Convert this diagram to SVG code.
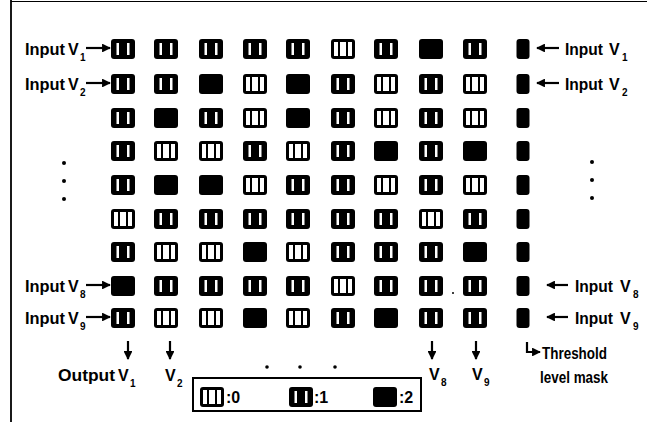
<svg xmlns="http://www.w3.org/2000/svg" width="647" height="422" viewBox="0 0 647 422">
<style>
.t{font-family:"Liberation Sans Narrow","Liberation Sans",Arial,sans-serif;font-weight:bold;font-size:16px;fill:#000}
.s{font-size:10px}
.c{stroke:#000;stroke-width:2.2;fill:none}
</style>
<defs>
<marker id="ah" viewBox="0 0 10 10" refX="9" refY="5" markerWidth="4" markerHeight="4" orient="auto"><path d="M0,0 L10,5 L0,10 Z" fill="#000"/></marker>
<g id="s0"><rect x="-12" y="-10" width="24" height="20" rx="3" fill="#000"/><rect x="-9" y="-7" width="18" height="14" fill="#fff"/><rect x="-5" y="-7" width="2" height="14" fill="#000"/><rect x="3" y="-7" width="2" height="14" fill="#000"/></g>
<g id="s1"><rect x="-12" y="-10" width="24" height="20" rx="3" fill="#000"/><rect x="-6.5" y="-6" width="2.5" height="12" fill="#fff"/><rect x="4" y="-6" width="2.5" height="12" fill="#fff"/></g>
<g id="s2"><rect x="-12" y="-10" width="24" height="20" rx="3" fill="#000"/></g>
<g id="th"><rect x="-6.5" y="-10" width="13" height="20" rx="3" fill="#000"/></g>
</defs>
<rect width="647" height="422" fill="#fff"/>
<g id="frame"><line x1="11" y1="0" x2="11" y2="422" stroke="#000" stroke-width="1.8"/><line x1="11" y1="1.5" x2="647" y2="1.5" stroke="#000" stroke-width="1.2"/></g>

<g id="r1">
<g id="c1-1"><use href="#s1" x="123" y="49"/></g><g id="c1-2"><use href="#s1" x="166" y="49"/></g><g id="c1-3"><use href="#s1" x="211" y="49"/></g><g id="c1-4"><use href="#s1" x="255" y="49"/></g><g id="c1-5"><use href="#s1" x="298" y="49"/></g><g id="c1-6"><use href="#s0" x="343" y="49"/></g><g id="c1-7"><use href="#s1" x="386" y="49"/></g><g id="c1-8"><use href="#s2" x="431" y="49"/></g><g id="c1-9"><use href="#s1" x="475" y="49"/></g><g id="t1"><use href="#th" x="523" y="49"/></g>
</g>
<g id="r2">
<g id="c2-1"><use href="#s1" x="123" y="84"/></g><g id="c2-2"><use href="#s1" x="166" y="84"/></g><g id="c2-3"><use href="#s2" x="211" y="84"/></g><g id="c2-4"><use href="#s0" x="255" y="84"/></g><g id="c2-5"><use href="#s2" x="298" y="84"/></g><g id="c2-6"><use href="#s1" x="343" y="84"/></g><g id="c2-7"><use href="#s0" x="386" y="84"/></g><g id="c2-8"><use href="#s1" x="431" y="84"/></g><g id="c2-9"><use href="#s0" x="475" y="84"/></g><g id="t2"><use href="#th" x="523" y="84"/></g>
</g>
<g id="r3">
<g id="c3-1"><use href="#s1" x="123" y="118"/></g><g id="c3-2"><use href="#s2" x="166" y="118"/></g><g id="c3-3"><use href="#s1" x="211" y="118"/></g><g id="c3-4"><use href="#s0" x="255" y="118"/></g><g id="c3-5"><use href="#s2" x="298" y="118"/></g><g id="c3-6"><use href="#s1" x="343" y="118"/></g><g id="c3-7"><use href="#s0" x="386" y="118"/></g><g id="c3-8"><use href="#s1" x="431" y="118"/></g><g id="c3-9"><use href="#s0" x="475" y="118"/></g><g id="t3"><use href="#th" x="523" y="118"/></g>
</g>
<g id="r4">
<g id="c4-1"><use href="#s1" x="123" y="151"/></g><g id="c4-2"><use href="#s0" x="166" y="151"/></g><g id="c4-3"><use href="#s0" x="211" y="151"/></g><g id="c4-4"><use href="#s1" x="255" y="151"/></g><g id="c4-5"><use href="#s0" x="298" y="151"/></g><g id="c4-6"><use href="#s1" x="343" y="151"/></g><g id="c4-7"><use href="#s2" x="386" y="151"/></g><g id="c4-8"><use href="#s1" x="431" y="151"/></g><g id="c4-9"><use href="#s2" x="475" y="151"/></g><g id="t4"><use href="#th" x="523" y="151"/></g>
</g>
<g id="r5">
<g id="c5-1"><use href="#s1" x="123" y="185"/></g><g id="c5-2"><use href="#s2" x="166" y="185"/></g><g id="c5-3"><use href="#s2" x="211" y="185"/></g><g id="c5-4"><use href="#s0" x="255" y="185"/></g><g id="c5-5"><use href="#s1" x="298" y="185"/></g><g id="c5-6"><use href="#s1" x="343" y="185"/></g><g id="c5-7"><use href="#s0" x="386" y="185"/></g><g id="c5-8"><use href="#s1" x="431" y="185"/></g><g id="c5-9"><use href="#s0" x="475" y="185"/></g><g id="t5"><use href="#th" x="523" y="185"/></g>
</g>
<g id="r6">
<g id="c6-1"><use href="#s0" x="123" y="219"/></g><g id="c6-2"><use href="#s1" x="166" y="219"/></g><g id="c6-3"><use href="#s1" x="211" y="219"/></g><g id="c6-4"><use href="#s1" x="255" y="219"/></g><g id="c6-5"><use href="#s1" x="298" y="219"/></g><g id="c6-6"><use href="#s1" x="343" y="219"/></g><g id="c6-7"><use href="#s1" x="386" y="219"/></g><g id="c6-8"><use href="#s0" x="431" y="219"/></g><g id="c6-9"><use href="#s1" x="475" y="219"/></g><g id="t6"><use href="#th" x="523" y="219"/></g>
</g>
<g id="r7">
<g id="c7-1"><use href="#s1" x="123" y="252"/></g><g id="c7-2"><use href="#s0" x="166" y="252"/></g><g id="c7-3"><use href="#s0" x="211" y="252"/></g><g id="c7-4"><use href="#s2" x="255" y="252"/></g><g id="c7-5"><use href="#s0" x="298" y="252"/></g><g id="c7-6"><use href="#s1" x="343" y="252"/></g><g id="c7-7"><use href="#s1" x="386" y="252"/></g><g id="c7-8"><use href="#s1" x="431" y="252"/></g><g id="c7-9"><use href="#s2" x="475" y="252"/></g><g id="t7"><use href="#th" x="523" y="252"/></g>
</g>
<g id="r8">
<g id="c8-1"><use href="#s2" x="123" y="286"/></g><g id="c8-2"><use href="#s1" x="166" y="286"/></g><g id="c8-3"><use href="#s1" x="211" y="286"/></g><g id="c8-4"><use href="#s1" x="255" y="286"/></g><g id="c8-5"><use href="#s1" x="298" y="286"/></g><g id="c8-6"><use href="#s0" x="343" y="286"/></g><g id="c8-7"><use href="#s1" x="386" y="286"/></g><g id="c8-8"><use href="#s1" x="431" y="286"/></g><g id="c8-9"><use href="#s1" x="475" y="286"/></g><g id="t8"><use href="#th" x="523" y="286"/></g>
</g>
<g id="r9">
<g id="c9-1"><use href="#s1" x="123" y="318"/></g><g id="c9-2"><use href="#s0" x="166" y="318"/></g><g id="c9-3"><use href="#s0" x="211" y="318"/></g><g id="c9-4"><use href="#s2" x="255" y="318"/></g><g id="c9-5"><use href="#s0" x="298" y="318"/></g><g id="c9-6"><use href="#s1" x="343" y="318"/></g><g id="c9-7"><use href="#s2" x="386" y="318"/></g><g id="c9-8"><use href="#s1" x="431" y="318"/></g><g id="c9-9"><use href="#s1" x="475" y="318"/></g><g id="t9"><use href="#th" x="523" y="318"/></g>
</g>

<g id="labels">
<text class="t" x="25" y="55" textLength="40" lengthAdjust="spacingAndGlyphs">Input</text><text class="t" x="68" y="55">V</text><text class="t s" x="80" y="61">1</text>
<text class="t" x="25" y="90" textLength="40" lengthAdjust="spacingAndGlyphs">Input</text><text class="t" x="68" y="90">V</text><text class="t s" x="80" y="96">2</text>
<text class="t" x="25" y="292" textLength="40" lengthAdjust="spacingAndGlyphs">Input</text><text class="t" x="68" y="292">V</text><text class="t s" x="80" y="298">8</text>
<text class="t" x="25" y="324" textLength="40" lengthAdjust="spacingAndGlyphs">Input</text><text class="t" x="68" y="324">V</text><text class="t s" x="80" y="330">9</text>
<text class="t" x="565" y="55" textLength="38" lengthAdjust="spacingAndGlyphs">Input</text><text class="t" x="609" y="55">V</text><text class="t s" x="622" y="61">1</text>
<text class="t" x="565" y="90" textLength="38" lengthAdjust="spacingAndGlyphs">Input</text><text class="t" x="609" y="90">V</text><text class="t s" x="622" y="96">2</text>
<text class="t" x="575" y="292" textLength="38" lengthAdjust="spacingAndGlyphs">Input</text><text class="t" x="620" y="292">V</text><text class="t s" x="633" y="298">8</text>
<text class="t" x="575" y="324" textLength="38" lengthAdjust="spacingAndGlyphs">Input</text><text class="t" x="620" y="324">V</text><text class="t s" x="633" y="330">9</text>
<text class="t" x="58" y="381" textLength="57" lengthAdjust="spacingAndGlyphs">Output</text><text class="t" x="118" y="381">V</text><text class="t s" x="130" y="387">1</text>
<text class="t" x="165" y="381">V</text><text class="t s" x="177" y="387">2</text>
<text class="t" x="429" y="380">V</text><text class="t s" x="441" y="386">8</text>
<text class="t" x="472" y="380">V</text><text class="t s" x="484" y="386">9</text>
<text class="t" x="542" y="359" textLength="65" lengthAdjust="spacingAndGlyphs">Threshold</text>
<text class="t" x="540" y="383" textLength="68" lengthAdjust="spacingAndGlyphs">level mask</text>
</g>

<g id="dots" fill="#000">
<circle cx="64" cy="163" r="2"/><circle cx="64" cy="181" r="2"/><circle cx="64" cy="199" r="2"/>
<circle cx="592" cy="162" r="2"/><circle cx="592" cy="180" r="2"/><circle cx="592" cy="198" r="2"/>
<circle cx="267" cy="367" r="1.8"/><circle cx="300" cy="367" r="1.8"/><circle cx="335" cy="367" r="1.8"/>
<circle cx="453" cy="293" r="1"/>
</g>

<g id="connectors">
<line class="c" x1="86" y1="48" x2="110" y2="48" marker-end="url(#ah)"/>
<line class="c" x1="86" y1="83" x2="110" y2="83" marker-end="url(#ah)"/>
<line class="c" x1="86" y1="285" x2="110" y2="285" marker-end="url(#ah)"/>
<line class="c" x1="86" y1="317" x2="110" y2="317" marker-end="url(#ah)"/>
<line class="c" x1="559" y1="48" x2="537" y2="48" marker-end="url(#ah)"/>
<line class="c" x1="559" y1="83" x2="537" y2="83" marker-end="url(#ah)"/>
<line class="c" x1="568" y1="285" x2="547" y2="285" marker-end="url(#ah)"/>
<line class="c" x1="568" y1="317" x2="547" y2="317" marker-end="url(#ah)"/>
<line class="c" x1="128" y1="341" x2="128" y2="359" marker-end="url(#ah)"/>
<line class="c" x1="170" y1="341" x2="170" y2="359" marker-end="url(#ah)"/>
<line class="c" x1="432" y1="341" x2="432" y2="359" marker-end="url(#ah)"/>
<line class="c" x1="476" y1="341" x2="476" y2="359" marker-end="url(#ah)"/>
<path class="c" d="M527,342 V352 H540" marker-end="url(#ah)"/>
</g>

<g id="legend">
<rect x="193" y="378" width="228" height="33" fill="#fff" stroke="#000" stroke-width="2"/>
<use href="#s0" x="212" y="397"/><text class="t" x="226" y="403">:0</text>
<use href="#s1" x="301" y="397"/><text class="t" x="314" y="403">:1</text>
<use href="#s2" x="385" y="397"/><text class="t" x="399" y="403">:2</text>
</g>
</svg>
